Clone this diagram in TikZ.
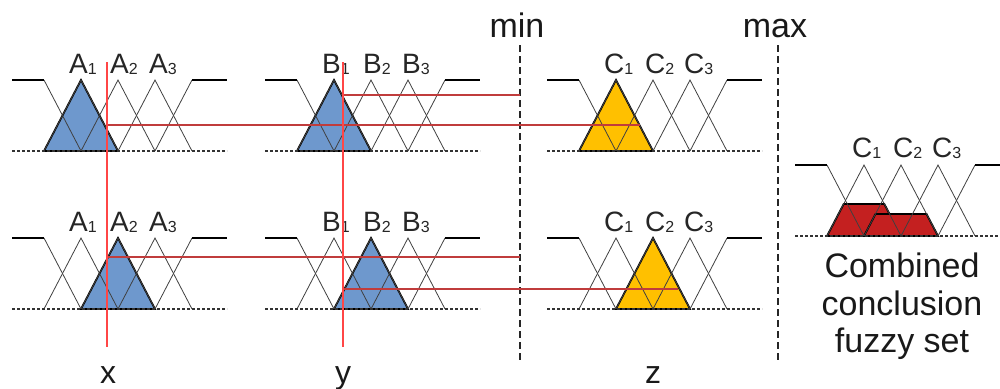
\documentclass[tikz,border=0pt]{standalone}
\usepackage{fontspec}
\setmainfont{Liberation Sans}
\definecolor{mfblue}{RGB}{110,152,205}
\definecolor{mfyellow}{RGB}{255,192,0}
\definecolor{mfred}{RGB}{196,32,32}
\definecolor{vred}{RGB}{255,70,70}
\definecolor{hred}{RGB}{192,60,60}
\tikzset{
  thinmf/.style={line width=0.8pt, black!75},
  shoulder/.style={line width=1.5pt, black},
  basedash/.style={line width=1.2pt, dash pattern=on 3pt off 2pt, black!80},
  sel/.style={line width=1.8pt, black, fill=#1},
  redv/.style={line width=2pt, color=vred},
  redh/.style={line width=1.3pt, color=hred},
  divider/.style={line width=1.5pt, dash pattern=on 7pt off 4pt, black!85},
  lbl/.style={font=\fontsize{28}{28}\selectfont, anchor=base west, inner sep=0pt, text=black!85},
  big/.style={font=\fontsize{34}{34}\selectfont, anchor=base, inner sep=0pt, text=black!90},
  axl/.style={font=\fontsize{32}{32}\selectfont, anchor=base, inner sep=0pt, text=black!90},
}
\newcommand\subd[1]{{\fontsize{16}{16}\selectfont\raisebox{-1pt}{#1}}}
% membership function set: x offset, top y
\newcommand\mfset[2]{%
  \begin{scope}[shift={(#1,#2)}]
    \draw[thinmf] (44,0) -- (81,71);
    \draw[thinmf] (44,71) -- (81,0) -- (118,71);
    \draw[thinmf] (81,71) -- (118,0) -- (155,71);
    \draw[thinmf] (118,71) -- (155,0) -- (192,71);
    \draw[thinmf] (155,71) -- (192,0);
    \draw[shoulder] (12,0) -- (44,0);
    \draw[shoulder] (192,0) -- (227,0);
    \draw[basedash] (12,71) -- (227,71);
  \end{scope}}
% filled triangle: x offset, top y, index, colour
\newcommand\mffill[4]{%
  \begin{scope}[shift={(#1,#2)}]
    \filldraw[sel=#4] ({7+37*#3},71) -- ({44+37*#3},0) -- ({81+37*#3},71) -- cycle;
  \end{scope}}
% labels: x offset, baseline y, letter, name prefix
\newcommand\mflabels[4]{%
  \node[lbl] (#41) at ({#1+69},#2) {#3\subd{1}};
  \node[lbl] (#42) at ({#1+110},#2) {#3\subd{2}};
  \node[lbl] (#43) at ({#1+149},#2) {#3\subd{3}};}
\begin{document}
\begin{tikzpicture}[x=1pt,y=-1pt]
\useasboundingbox (0,0) rectangle (1000,388);
\clip (0,0) rectangle (1000,388);
% filled sets
\mffill{0}{80}{1}{mfblue}
\mffill{253}{80}{1}{mfblue}
\mffill{535}{80}{1}{mfyellow}
\mffill{0}{238}{2}{mfblue}
\mffill{253}{238}{2}{mfblue}
\mffill{535}{238}{2}{mfyellow}
% combined result
\filldraw[sel=mfred] (827,236) -- (843.7,204) -- (884.3,204) -- (901,236) -- cycle;
\filldraw[sel=mfred] (864,236) -- (875.5,214) -- (926.5,214) -- (938,236) -- cycle;
% membership functions
\mfset{0}{80}
\mfset{253}{80}
\mfset{535}{80}
\mfset{0}{238}
\mfset{253}{238}
\mfset{535}{238}
\mfset{783}{165}
% labels
\mflabels{0}{73}{A}{ta}
\mflabels{253}{73}{B}{tb}
\mflabels{535}{73}{C}{tc}
\mflabels{0}{231}{A}{ba}
\mflabels{253}{231}{B}{bb}
\mflabels{535}{231}{C}{bc}
\mflabels{783}{157}{C}{cc}
% min / max dividers
\draw[divider] (520,45) -- (520,362);
\draw[divider] (778,45) -- (778,362);
\node[big] (minl) at (517,37) {min};
\node[big] (maxl) at (775,37) {max};
% red lines
\draw[redh] (343,95) -- (520,95);
\draw[redh] (107,125) -- (640,125);
\draw[redh] (107,257) -- (520,257);
\draw[redh] (343,289) -- (678,289);
\draw[redv] (107,62) -- (107,347);
\draw[redv] (343,62) -- (343,347);
% axis labels
\node[axl] (xl) at (108,383) {x};
\node[axl] (yl) at (343,383) {y};
\node[axl] (zl) at (653,383) {z};
% caption
\node[big] (cap1) at (902,277) {Combined};
\node[big] (cap2) at (902,315) {conclusion};
\node[big] (cap3) at (902,352) {fuzzy set};
\end{tikzpicture}
\end{document}
